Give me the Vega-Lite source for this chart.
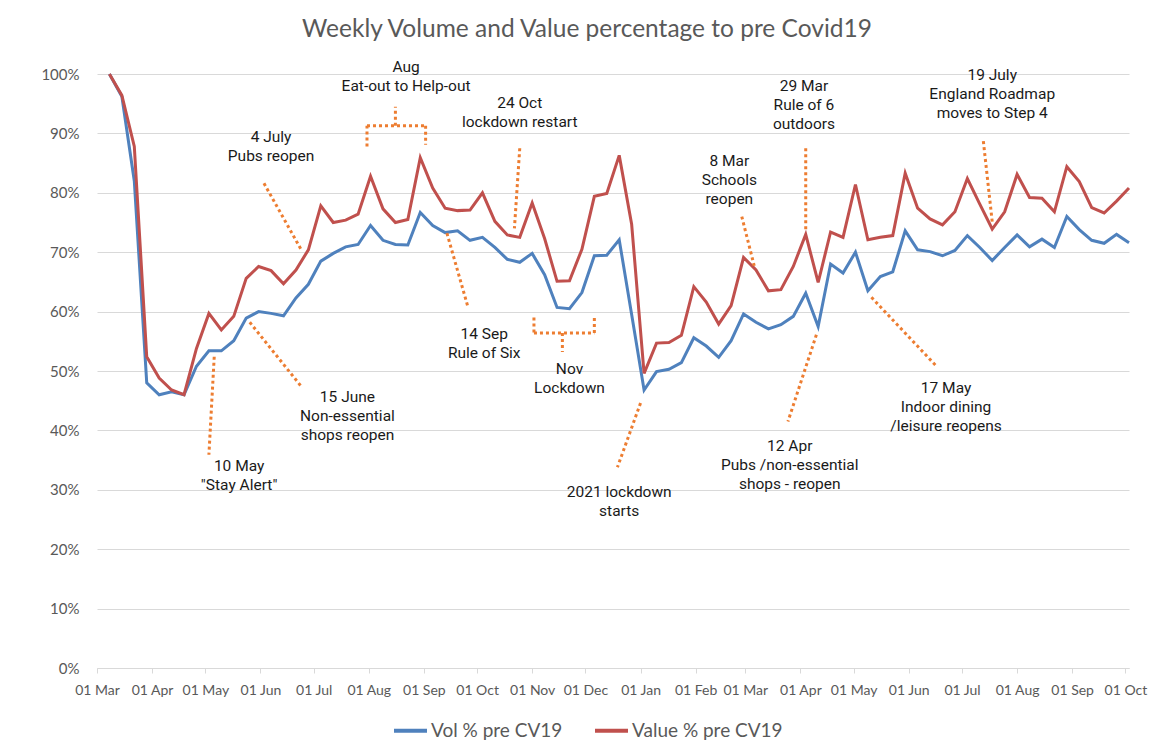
{
  "$schema": "https://vega.github.io/schema/vega-lite/v6.json",
  "width": 1032,
  "height": 594,
  "autosize": {"type": "none"},
  "padding": {"left": 97, "top": 74, "right": 30, "bottom": 87},
  "background": "white",
  "title": {"text": "Weekly Volume and Value percentage to pre Covid19", "font": "Lato", "fontSize": 24.5, "fontWeight": "normal", "color": "#595959", "anchor": "middle", "dx": -26, "offset": 17},
  "datasets": {
    "weekly": [
      {"d": "2020-03-08", "vol": 100, "val": 100},
      {"d": "2020-03-15", "vol": 96.2, "val": 96.4},
      {"d": "2020-03-22", "vol": 82.0, "val": 87.8},
      {"d": "2020-03-29", "vol": 48.0, "val": 52.4},
      {"d": "2020-04-05", "vol": 46.0, "val": 48.8},
      {"d": "2020-04-12", "vol": 46.5, "val": 46.8},
      {"d": "2020-04-19", "vol": 46.0, "val": 46.0},
      {"d": "2020-04-26", "vol": 50.8, "val": 53.8},
      {"d": "2020-05-03", "vol": 53.4, "val": 59.7},
      {"d": "2020-05-10", "vol": 53.4, "val": 56.9},
      {"d": "2020-05-17", "vol": 55.1, "val": 59.2},
      {"d": "2020-05-24", "vol": 58.9, "val": 65.6},
      {"d": "2020-05-31", "vol": 60.0, "val": 67.6},
      {"d": "2020-06-07", "vol": 59.7, "val": 66.9},
      {"d": "2020-06-14", "vol": 59.3, "val": 64.7},
      {"d": "2020-06-21", "vol": 62.3, "val": 67.0},
      {"d": "2020-06-28", "vol": 64.6, "val": 70.4},
      {"d": "2020-07-05", "vol": 68.5, "val": 77.8},
      {"d": "2020-07-12", "vol": 69.8, "val": 75.0},
      {"d": "2020-07-19", "vol": 70.9, "val": 75.4},
      {"d": "2020-07-26", "vol": 71.3, "val": 76.4},
      {"d": "2020-08-02", "vol": 74.5, "val": 82.8},
      {"d": "2020-08-09", "vol": 72.0, "val": 77.3},
      {"d": "2020-08-16", "vol": 71.3, "val": 75.0},
      {"d": "2020-08-23", "vol": 71.2, "val": 75.5},
      {"d": "2020-08-30", "vol": 76.7, "val": 85.9},
      {"d": "2020-09-06", "vol": 74.5, "val": 80.8},
      {"d": "2020-09-13", "vol": 73.3, "val": 77.4},
      {"d": "2020-09-20", "vol": 73.6, "val": 77.0},
      {"d": "2020-09-27", "vol": 72.0, "val": 77.1},
      {"d": "2020-10-04", "vol": 72.5, "val": 80.0},
      {"d": "2020-10-11", "vol": 70.8, "val": 75.2},
      {"d": "2020-10-18", "vol": 68.8, "val": 72.9},
      {"d": "2020-10-25", "vol": 68.3, "val": 72.5},
      {"d": "2020-11-01", "vol": 69.8, "val": 78.3},
      {"d": "2020-11-08", "vol": 66.2, "val": 72.3},
      {"d": "2020-11-15", "vol": 60.7, "val": 65.1},
      {"d": "2020-11-22", "vol": 60.5, "val": 65.2},
      {"d": "2020-11-29", "vol": 63.2, "val": 70.5},
      {"d": "2020-12-06", "vol": 69.4, "val": 79.4},
      {"d": "2020-12-13", "vol": 69.5, "val": 79.9},
      {"d": "2020-12-20", "vol": 72.1, "val": 86.3},
      {"d": "2020-12-27", "vol": 59.5, "val": 74.7},
      {"d": "2021-01-03", "vol": 46.8, "val": 49.6},
      {"d": "2021-01-10", "vol": 49.9, "val": 54.7},
      {"d": "2021-01-17", "vol": 50.3, "val": 54.8},
      {"d": "2021-01-24", "vol": 51.4, "val": 56.0},
      {"d": "2021-01-31", "vol": 55.6, "val": 64.2},
      {"d": "2021-02-07", "vol": 54.2, "val": 61.6},
      {"d": "2021-02-14", "vol": 52.3, "val": 57.9},
      {"d": "2021-02-21", "vol": 55.1, "val": 61.0},
      {"d": "2021-02-28", "vol": 59.6, "val": 69.1},
      {"d": "2021-03-07", "vol": 58.2, "val": 67.0},
      {"d": "2021-03-14", "vol": 57.1, "val": 63.5},
      {"d": "2021-03-21", "vol": 57.8, "val": 63.7},
      {"d": "2021-03-28", "vol": 59.2, "val": 67.6},
      {"d": "2021-04-04", "vol": 63.1, "val": 73.0},
      {"d": "2021-04-11", "vol": 57.5, "val": 64.9},
      {"d": "2021-04-18", "vol": 68.0, "val": 73.4},
      {"d": "2021-04-25", "vol": 66.5, "val": 72.5},
      {"d": "2021-05-02", "vol": 70.0, "val": 81.4},
      {"d": "2021-05-09", "vol": 63.5, "val": 72.1},
      {"d": "2021-05-16", "vol": 65.9, "val": 72.5},
      {"d": "2021-05-23", "vol": 66.7, "val": 72.8},
      {"d": "2021-05-30", "vol": 73.6, "val": 83.3},
      {"d": "2021-06-06", "vol": 70.4, "val": 77.4},
      {"d": "2021-06-13", "vol": 70.1, "val": 75.6},
      {"d": "2021-06-20", "vol": 69.4, "val": 74.6},
      {"d": "2021-06-27", "vol": 70.3, "val": 76.8},
      {"d": "2021-07-04", "vol": 72.8, "val": 82.4},
      {"d": "2021-07-11", "vol": 70.8, "val": 78.1},
      {"d": "2021-07-18", "vol": 68.6, "val": 73.9},
      {"d": "2021-07-25", "vol": 70.8, "val": 76.8},
      {"d": "2021-08-01", "vol": 72.9, "val": 83.1},
      {"d": "2021-08-08", "vol": 70.9, "val": 79.2},
      {"d": "2021-08-15", "vol": 72.2, "val": 79.1},
      {"d": "2021-08-22", "vol": 70.8, "val": 76.8},
      {"d": "2021-08-29", "vol": 76.0, "val": 84.4},
      {"d": "2021-09-05", "vol": 73.8, "val": 81.9},
      {"d": "2021-09-12", "vol": 72.0, "val": 77.5},
      {"d": "2021-09-19", "vol": 71.5, "val": 76.6},
      {"d": "2021-09-26", "vol": 73.0, "val": 78.6},
      {"d": "2021-10-03", "vol": 71.6, "val": 80.8}
    ],
    "ann": [
      {"d1": "2020-05-06", "v1": 52.4, "d2": "2020-05-03", "v2": 35.9},
      {"d1": "2020-05-26", "v1": 58.2, "d2": "2020-06-24", "v2": 47.4},
      {"d1": "2020-06-03", "v1": 81.6, "d2": "2020-06-24", "v2": 70.4},
      {"d1": "2020-07-31", "v1": 87.8, "d2": "2020-07-31", "v2": 91.3},
      {"d1": "2020-07-31", "v1": 91.3, "d2": "2020-09-02", "v2": 91.3},
      {"d1": "2020-09-02", "v1": 91.3, "d2": "2020-09-02", "v2": 88.1},
      {"d1": "2020-08-16", "v1": 91.3, "d2": "2020-08-16", "v2": 94.5},
      {"d1": "2020-10-25", "v1": 87.5, "d2": "2020-10-22", "v2": 74.0},
      {"d1": "2020-09-14", "v1": 73.2, "d2": "2020-09-26", "v2": 60.6},
      {"d1": "2020-11-02", "v1": 59.0, "d2": "2020-11-02", "v2": 56.4},
      {"d1": "2020-11-02", "v1": 56.4, "d2": "2020-12-06", "v2": 56.4},
      {"d1": "2020-12-06", "v1": 56.4, "d2": "2020-12-06", "v2": 59.3},
      {"d1": "2020-11-18", "v1": 56.4, "d2": "2020-11-18", "v2": 53.2},
      {"d1": "2021-01-01", "v1": 44.6, "d2": "2020-12-19", "v2": 33.8},
      {"d1": "2021-02-27", "v1": 76.0, "d2": "2021-03-06", "v2": 67.7},
      {"d1": "2021-04-04", "v1": 87.5, "d2": "2021-04-04", "v2": 73.5},
      {"d1": "2021-04-10", "v1": 56.1, "d2": "2021-03-25", "v2": 41.5},
      {"d1": "2021-05-11", "v1": 62.4, "d2": "2021-06-16", "v2": 51.0},
      {"d1": "2021-07-13", "v1": 88.7, "d2": "2021-07-18", "v2": 75.1}
    ],
    "notes": [
      {"d": "2020-05-20", "v": 34.0, "t": "10 May\n\"Stay Alert\""},
      {"d": "2020-07-20", "v": 45.6, "t": "15 June\nNon-essential\nshops reopen"},
      {"d": "2020-06-07", "v": 89.4, "t": "4 July\nPubs reopen"},
      {"d": "2020-08-22", "v": 101.2, "t": "Aug\nEat-out to Help-out"},
      {"d": "2020-10-25", "v": 95.1, "t": "24 Oct\nlockdown restart"},
      {"d": "2020-10-05", "v": 56.2, "t": "14 Sep\nRule of Six"},
      {"d": "2020-11-22", "v": 50.3, "t": "Nov\nLockdown"},
      {"d": "2020-12-20", "v": 29.6, "t": "2021 lockdown\nstarts"},
      {"d": "2021-02-20", "v": 85.4, "t": "8 Mar\nSchools\nreopen"},
      {"d": "2021-04-03", "v": 97.9, "t": "29 Mar\nRule of 6\noutdoors"},
      {"d": "2021-03-26", "v": 37.4, "t": "12 Apr\nPubs /non-essential\nshops - reopen"},
      {"d": "2021-06-22", "v": 47.1, "t": "17 May\nIndoor dining\n/leisure reopens"},
      {"d": "2021-07-18", "v": 99.8, "t": "19 July\nEngland Roadmap\nmoves to Step 4"}
    ]
  },
  "layer": [
    {
      "data": {"name": "weekly"},
      "mark": {"type": "line", "strokeWidth": 3},
      "encoding": {
        "x": {
          "field": "d", "type": "temporal",
          "scale": {"type": "utc", "domain": [{"year": 2020, "month": 3, "date": 1, "utc": true}, {"year": 2021, "month": 10, "date": 3, "utc": true}]},
          "axis": {"title": null, "labelExpr": "utcFormat(datum.value, '%d %b')", "tickCount": {"interval": "month", "step": 1}, "labelFlush": false, "labelOverlap": false, "grid": false, "domainColor": "#D9D9D9", "tickColor": "#D9D9D9", "tickSize": 5, "labelFont": "Lato", "labelFontSize": 14, "labelColor": "#595959", "labelPadding": 10}
        },
        "y": {
          "field": "vol", "type": "quantitative",
          "scale": {"domain": [0, 100], "nice": false},
          "axis": {"title": null, "values": [0, 10, 20, 30, 40, 50, 60, 70, 80, 90, 100], "labelExpr": "datum.value + '%'", "domain": false, "ticks": false, "grid": true, "gridColor": "#D9D9D9", "labelFont": "Lato", "labelFontSize": 15, "labelColor": "#595959", "labelPadding": 18}
        },
        "color": {
          "datum": "Vol % pre CV19",
          "scale": {"domain": ["Vol % pre CV19", "Value % pre CV19"], "range": ["#4F81BD", "#C0504D"]},
          "legend": {"orient": "none", "legendX": 295, "legendY": 638, "direction": "horizontal", "title": null, "symbolType": "stroke", "symbolSize": 1089, "symbolStrokeWidth": 4, "labelFontSize": 19, "labelFont": "Lato", "labelColor": "#595959", "columnPadding": 24, "labelOffset": 2, "labelLimit": 300}
        }
      }
    },
    {
      "data": {"name": "weekly"},
      "mark": {"type": "line", "strokeWidth": 3},
      "encoding": {
        "x": {"field": "d", "type": "temporal"},
        "y": {"field": "val", "type": "quantitative"},
        "color": {"datum": "Value % pre CV19"}
      }
    },
    {
      "data": {"name": "ann", "format": {"parse": {"d1": "date", "d2": "date"}}},
      "mark": {"type": "rule", "color": "#ED7D31", "strokeWidth": 3, "strokeDash": [3, 3]},
      "encoding": {
        "x": {"field": "d1", "type": "temporal"},
        "x2": {"field": "d2"},
        "y": {"field": "v1", "type": "quantitative"},
        "y2": {"field": "v2"}
      }
    },
    {
      "data": {"name": "notes"},
      "mark": {"type": "text", "font": "Roboto", "fontSize": 15.5, "lineHeight": 19, "lineBreak": "\n", "align": "center", "baseline": "middle", "color": "#1a1a1a"},
      "encoding": {
        "x": {"field": "d", "type": "temporal"},
        "y": {"field": "v", "type": "quantitative"},
        "text": {"field": "t", "type": "nominal"}
      }
    }
  ],
  "config": {"view": {"stroke": null}}
}
